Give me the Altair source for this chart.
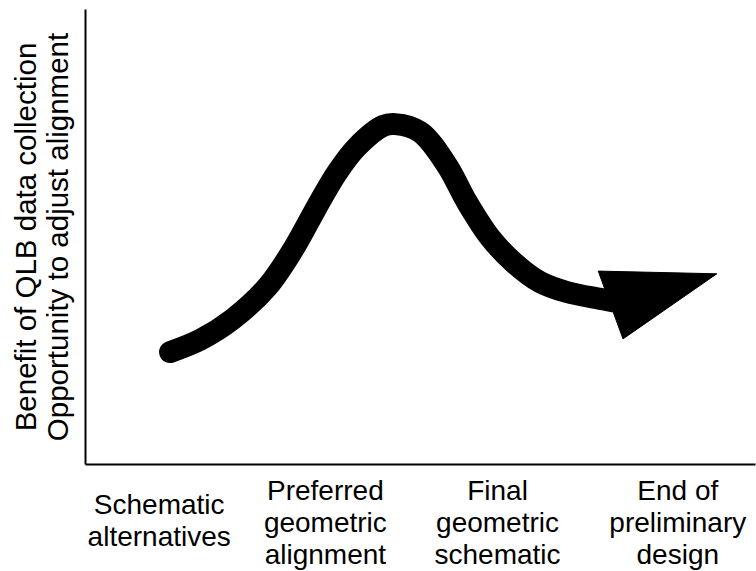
import altair as alt
import pandas as pd

# Curve centerline (x, y in a 0-100 conceptual scale)
curve_x = [12.7, 17.2, 22.1, 27.2, 31.0, 34.6, 37.6, 40.6, 44.5, 46.3, 50.0, 54.0, 57.0, 60.4, 63.9, 67.9, 71.9, 76.9, 78.7]
curve_y = [24.6, 27.3, 31.9, 38.9, 47.0, 56.5, 64.0, 69.7, 74.3, 74.7, 73.0, 65.7, 57.6, 49.9, 44.4, 40.0, 37.8, 36.3, 35.8]

# Arrowhead triangle vertices
head_x = [76.6, 94.3, 80.3]
head_y = [42.4, 41.8, 27.5]

# Category positions and labels
cat_pos = [11.0, 35.8, 61.5, 88.4]
cat_labels = [
    "Schematic|alternatives",
    "Preferred|geometric|alignment",
    "Final|geometric|schematic",
    "End of|preliminary|design",
]

y_title = ["Benefit of QLB data collection", "Opportunity to adjust alignment"]

FONT = "Liberation Sans"

curve = pd.DataFrame({"x": curve_x, "y": curve_y, "i": list(range(len(curve_x)))})
head = pd.DataFrame({"x": head_x, "y": head_y, "i": list(range(len(head_x)))})

expr = "''"
for p, lab in reversed(list(zip(cat_pos, cat_labels))):
    expr = f"(abs(datum.value - {p}) < 0.01 ? '{lab}' : {expr})"
label_expr = f"split({expr}, '|')"

xscale = alt.Scale(domain=[0, 100], nice=False, zero=False)
yscale = alt.Scale(domain=[0, 100], nice=False, zero=False)

xaxis = alt.Axis(
    values=cat_pos, labelExpr=label_expr, title=None, ticks=False, grid=False,
    domain=True, domainColor="black", domainWidth=2,
    labelFont=FONT, labelFontSize=28, labelColor="black", labelLineHeight=32,
    labelBaseline="middle",
    labelPadding={"condition": {"test": f"datum.value < {cat_pos[0] + 1}", "value": 41}, "value": 27},
    labelAlign="center", labelFlush=False, labelOverlap=False, labelBound=False,
)
yaxis = alt.Axis(
    title=y_title, labels=False, ticks=False, grid=False,
    domain=True, domainColor="black", domainWidth=2,
    titleFont=FONT, titleFontSize=29.5, titleFontWeight="normal", titleColor="black",
    titleLineHeight=32, titlePadding=12,
)

line = alt.Chart(curve).mark_line(
    color="black", strokeWidth=22, strokeCap="round", strokeJoin="round", interpolate="catmull-rom"
).encode(
    x=alt.X("x:Q", scale=xscale, axis=xaxis),
    y=alt.Y("y:Q", scale=yscale, axis=yaxis),
    order="i:Q",
)

arrow = alt.Chart(head).mark_line(
    interpolate="linear-closed", stroke="black", fill="black", strokeWidth=1
).encode(
    x=alt.X("x:Q", scale=xscale),
    y=alt.Y("y:Q", scale=yscale),
    order="i:Q",
)

chart = alt.layer(line, arrow).properties(
    width=670, height=455,
    autosize=alt.AutoSizeParams(type="none"),
    padding={"left": 85, "top": 9, "right": 1, "bottom": 107},
    background="white",
).configure_view(stroke=None)

chart.save("out.html", embed_options={"renderer": "svg", "actions": False})
